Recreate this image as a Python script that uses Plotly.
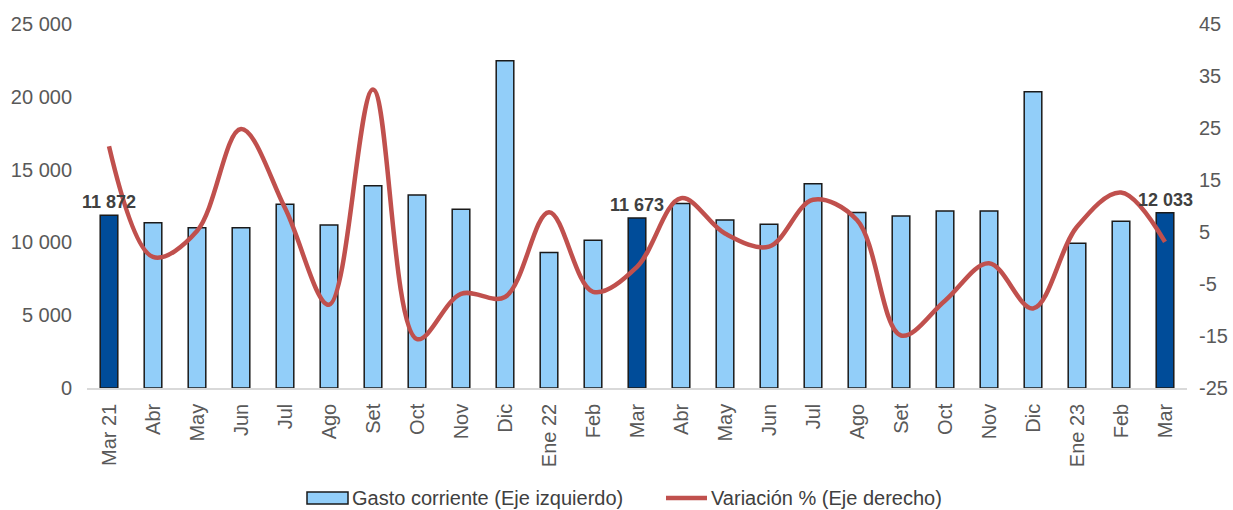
import plotly.graph_objects as go

CATEGORIES = ["Mar 21", "Abr", "May", "Jun", "Jul", "Ago", "Set", "Oct", "Nov", "Dic",
              "Ene 22", "Feb", "Mar", "Abr", "May", "Jun", "Jul", "Ago", "Set", "Oct",
              "Nov", "Dic", "Ene 23", "Feb", "Mar"]
GASTO = [11872, 11350, 11010, 11010, 12620, 11195, 13890, 13255, 12280, 22470,
         9310, 10150, 11673, 12680, 11540, 11250, 14030, 12060, 11813, 12157,
         12157, 20340, 9940, 11450, 12033]
VARIACION = [21.5, 0.2, 5.2, 24.8, 9.6, -9.0, 32.4, -15.6, -6.9, -7.5,
             8.8, -6.5, -1.7, 11.5, 4.7, 2.2, 11.2, 7.3, -14.9, -8.2,
             -1.0, -9.7, 6.0, 12.6, 3.1]
HIGHLIGHT = [0, 12, 24]
LEFT_TICKS = [0, 5000, 10000, 15000, 20000, 25000]
RIGHT_TICKS = [-25, -15, -5, 5, 15, 25, 35, 45]
SERIES_NAMES = ["Gasto corriente (Eje izquierdo)", "Variación % (Eje derecho)"]

LIGHT = "#92CEF9"
DARK = "#004C99"
RED = "#C0504D"
FONT = "Liberation Sans, Arial, sans-serif"

W, H = 1233, 510
ML, MR, MT, MB = 87, 46, 24, 122
PW, PH = W - ML - MR, H - MT - MB
PLOT_LEFT, PLOT_BOTTOM = ML, MT + PH


def px_x(px):
    return (px - PLOT_LEFT) / PW


def px_y(py):
    return (PLOT_BOTTOM - py) / PH


x = list(range(len(CATEGORIES)))
colors = [DARK if i in HIGHLIGHT else LIGHT for i in x]

fig = go.Figure()
fig.add_trace(go.Bar(
    x=x, y=GASTO, name=SERIES_NAMES[0], width=0.4,
    marker=dict(color=colors, line=dict(color="#1a1a1a", width=1.5)),
    yaxis="y",
))
fig.add_trace(go.Scatter(
    x=x, y=VARIACION, name=SERIES_NAMES[1], mode="lines",
    line=dict(color=RED, width=4.5, shape="spline", smoothing=1.0),
    yaxis="y2",
))

for i in HIGHLIGHT:
    fig.add_annotation(
        x=x[i], y=GASTO[i], xref="x", yref="y",
        text="<b>" + f"{GASTO[i]:,}".replace(",", " ") + "</b>",
        showarrow=False, yanchor="bottom", yshift=1,
        font=dict(family=FONT, size=18, color="#404040"),
    )

# manual legend (bottom)
leg_y = 498
fig.add_shape(type="rect", xref="paper", yref="paper",
              x0=px_x(307), x1=px_x(348), y0=px_y(504), y1=px_y(492),
              fillcolor=LIGHT, line=dict(color="#1a1a1a", width=1.5))
fig.add_annotation(x=px_x(350), y=px_y(leg_y), xref="paper", yref="paper",
                   text=SERIES_NAMES[0], showarrow=False,
                   xanchor="left", yanchor="middle",
                   font=dict(family=FONT, size=20, color="#404040"))
fig.add_shape(type="line", xref="paper", yref="paper",
              x0=px_x(666), x1=px_x(707), y0=px_y(leg_y), y1=px_y(leg_y),
              line=dict(color=RED, width=4.5))
fig.add_annotation(x=px_x(709), y=px_y(leg_y), xref="paper", yref="paper",
                   text=SERIES_NAMES[1], showarrow=False,
                   xanchor="left", yanchor="middle",
                   font=dict(family=FONT, size=20, color="#404040"))

fig.update_layout(
    width=W, height=H,
    margin=dict(l=ML, r=MR, t=MT, b=MB, autoexpand=False),
    paper_bgcolor="white", plot_bgcolor="white",
    font=dict(family=FONT, size=20, color="#595959"),
    separators=", ",
    bargap=0.6,
    showlegend=False,
    hovermode=False,
    xaxis=dict(
        tickmode="array", tickvals=x, ticktext=CATEGORIES,
        tickangle=-90, range=[-0.5, len(CATEGORIES) - 0.5],
        showline=True, linecolor="#D9D9D9", linewidth=1.5,
        showgrid=False, zeroline=False, ticks="",
        ticklabelstandoff=6,
        tickfont=dict(family=FONT, size=20, color="#595959"),
    ),
    yaxis=dict(
        range=[0, 25000], tickmode="array", tickvals=LEFT_TICKS,
        tickformat=",", showgrid=False, zeroline=False, showline=False,
        ticks="", ticklabelstandoff=14,
        tickfont=dict(family=FONT, size=20, color="#595959"),
    ),
    yaxis2=dict(
        range=[-25, 45], overlaying="y", side="right",
        tickmode="array", tickvals=RIGHT_TICKS,
        ticktext=[str(v) for v in RIGHT_TICKS],
        showgrid=False, zeroline=False, showline=False,
        ticks="", ticklabelstandoff=11,
        tickfont=dict(family=FONT, size=20, color="#595959"),
    ),
)

fig.write_html(
    "out.html",
    config={"displayModeBar": False},
    post_script="document.body.style.margin='0';document.body.style.overflow='hidden';",
)
